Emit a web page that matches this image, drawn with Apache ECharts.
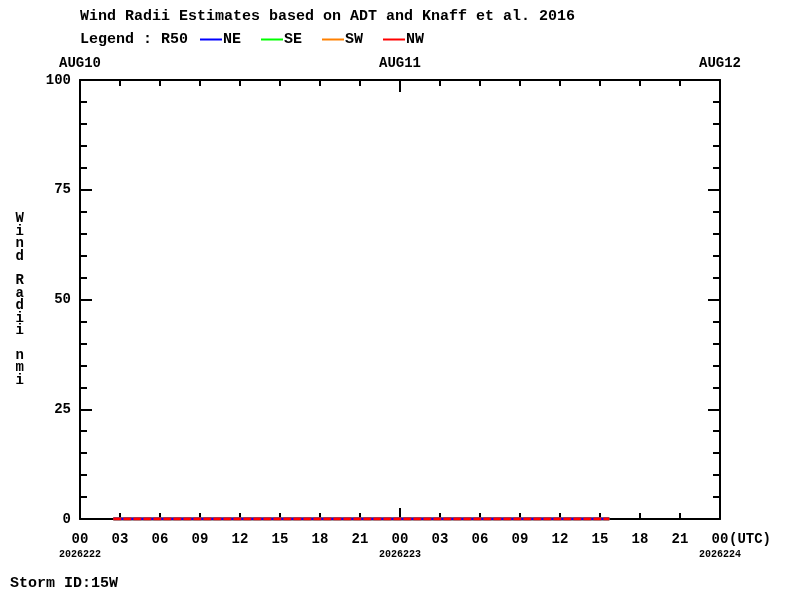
<!DOCTYPE html>
<html>
<head>
<meta charset="utf-8">
<script src="https://cdn.jsdelivr.net/npm/echarts@6/dist/echarts.min.js"></script>
<style>html,body{margin:0;padding:0;background:#fff}#c{width:800px;height:600px}</style>
</head>
<body>
<div id="c"></div>
<script>
// hours since 2026-08-10 00Z (Julian 2026222)
var times = [2.5, 5, 8, 11, 14, 17, 20, 23, 26, 29, 32, 35, 38, 39.7];
var ne = [0, 0, 0, 0, 0, 0, 0, 0, 0, 0, 0, 0, 0, 0];
var se = [0, 0, 0, 0, 0, 0, 0, 0, 0, 0, 0, 0, 0, 0];
var sw = [0, 0, 0, 0, 0, 0, 0, 0, 0, 0, 0, 0, 0, 0];
var nw = [0, 0, 0, 0, 0, 0, 0, 0, 0, 0, 0, 0, 0, 0];
var dayLabels = ['AUG10', 'AUG11', 'AUG12'];
var julianLabels = ['2026222', '2026223', '2026224'];
var yTicks = [0, 25, 50, 75, 100];

function pairs(v) { return times.map(function (t, i) { return [t, v[i]]; }); }

var FONT = 'Liberation Mono';
var chart = echarts.init(document.getElementById('c'));
var tickStyle = { color: '#000', width: 2 };
var lineStyle = { color: '#000', width: 2 };
chart.setOption({
  animation: false,
  backgroundColor: '#fff',
  textStyle: { fontFamily: FONT, fontWeight: 'bold', color: '#000' },
  grid: { left: 80, right: 80, top: 80, bottom: 81 },
  title: {
    text: 'Wind Radii Estimates based on ADT and Knaff et al. 2016',
    left: 75, top: 4,
    textStyle: { fontFamily: FONT, fontWeight: 'bold', fontSize: 15, color: '#000' }
  },
  legend: {
    left: 195, top: 27, itemWidth: 22, itemHeight: 2, itemGap: 20, icon: 'rect',
    textStyle: { fontFamily: FONT, fontWeight: 'bold', fontSize: 15, color: '#000', padding: [0, 0, 0, -4] },
    data: ['NE', 'SE', 'SW', 'NW']
  },
  graphic: [
    { type: 'text', left: 80, top: 32, style: { text: 'Legend : R50', font: 'bold 15px "Liberation Mono"', fill: '#000' } },
    { type: 'text', left: 729, top: 532, style: { text: '(UTC)', font: 'bold 14px "Liberation Mono"', fill: '#000' } },
    { type: 'text', left: 10, top: 576, style: { text: 'Storm ID:15W', font: 'bold 15px "Liberation Mono"', fill: '#000' } }
  ],
  xAxis: [
    {
      type: 'value', position: 'bottom', min: 0, max: 48, interval: 3,
      axisLine: { onZero: false, lineStyle: lineStyle },
      axisTick: { inside: true, length: 6, lineStyle: tickStyle },
      splitLine: { show: false },
      axisLabel: {
        margin: 12, showMinLabel: true, showMaxLabel: true, hideOverlap: false,
        fontFamily: FONT, fontWeight: 'bold', fontSize: 14, color: '#000', lineHeight: 16,
        formatter: function (v) {
          var h = v % 24; var s = (h < 10 ? '0' : '') + h;
          if (h === 0) return s + '\n{d|' + julianLabels[v / 24] + '}';
          return s;
        },
        rich: {
          d: { fontFamily: FONT, fontWeight: 'bold', fontSize: 10, color: '#000', lineHeight: 14 }
        }
      }
    },
    {
      type: 'value', position: 'bottom', min: 0, max: 48, interval: 24,
      axisLine: { show: false, onZero: false },
      axisTick: { inside: true, length: 11, lineStyle: tickStyle },
      axisLabel: { show: false }, splitLine: { show: false }
    },
    {
      type: 'value', position: 'top', min: 0, max: 48, interval: 24,
      axisLine: { onZero: false, lineStyle: lineStyle },
      axisTick: { inside: true, length: 12, lineStyle: tickStyle },
      minorTick: { show: true, splitNumber: 8, length: 6, lineStyle: tickStyle },
      splitLine: { show: false },
      axisLabel: {
        margin: 10, showMinLabel: true, showMaxLabel: true,
        fontFamily: FONT, fontWeight: 'bold', fontSize: 14, color: '#000',
        formatter: function (v) { return dayLabels[v / 24]; }
      }
    }
  ],
  yAxis: [
    {
      type: 'value', position: 'left', min: 0, max: 100, interval: 25,
      name: 'Wind Radii nmi'.split('').join('\n'),
      nameLocation: 'middle', nameGap: 56, nameRotate: 0,
      nameTextStyle: { fontFamily: FONT, fontWeight: 'bold', fontSize: 14, color: '#000', lineHeight: 12.4 },
      axisLine: { show: true, onZero: false, lineStyle: lineStyle },
      axisTick: { show: true, inside: true, length: 12, lineStyle: tickStyle },
      minorTick: { show: true, splitNumber: 5, length: 7, lineStyle: tickStyle },
      splitLine: { show: false },
      axisLabel: {
        margin: 9, fontFamily: FONT, fontWeight: 'bold', fontSize: 14, color: '#000',
        formatter: function (v) { return yTicks.indexOf(v) >= 0 ? String(v) : ''; }
      }
    },
    {
      type: 'value', position: 'right', min: 0, max: 100, interval: 25,
      axisLine: { show: true, onZero: false, lineStyle: lineStyle },
      axisTick: { show: true, inside: true, length: 12, lineStyle: tickStyle },
      minorTick: { show: true, splitNumber: 5, length: 7, lineStyle: tickStyle },
      splitLine: { show: false },
      axisLabel: { show: false }
    }
  ],
  series: [
    { name: 'NE', type: 'line', data: pairs(ne), color: '#0000ff', showSymbol: false, lineStyle: { width: 3, color: '#0000ff' }, z: 3 },
    { name: 'SE', type: 'line', data: pairs(se), color: '#00ff00', showSymbol: false, lineStyle: { width: 3, color: '#00ff00' }, z: 2 },
    { name: 'SW', type: 'line', data: pairs(sw), color: '#ff8000', showSymbol: false, lineStyle: { width: 3, color: '#ff8000' }, z: 2 },
    { name: 'NW', type: 'line', data: pairs(nw), color: '#ff0000', showSymbol: false, lineStyle: { width: 3, color: '#ff0000', type: [8, 2] }, z: 4 }
  ]
});
</script>
</body>
</html>
